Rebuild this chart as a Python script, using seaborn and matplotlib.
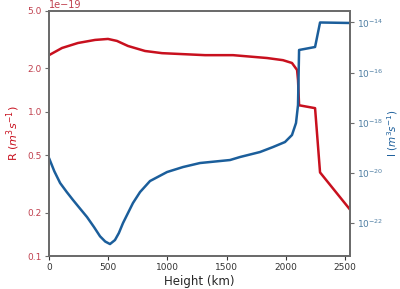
import numpy as np
import pandas as pd
import matplotlib
matplotlib.use("Agg")
import matplotlib.pyplot as plt
import seaborn as sns
from matplotlib.ticker import FixedLocator, FixedFormatter, NullLocator

# ── Data ─────────────────────────────────────────────────────────────────────
r_height = [0, 110, 245, 389, 498, 574, 667, 811, 955, 1318, 1554, 1841,
            1976, 2052, 2095, 2103, 2112, 2247, 2289, 2542]
r_value = [2.47, 2.77, 3.00, 3.15, 3.20, 3.10, 2.86, 2.64, 2.55, 2.47, 2.47,
           2.36, 2.28, 2.18, 1.95, 1.66, 1.11, 1.06, 0.38, 0.21]   # x 1e-19

i_height = [0, 45, 94, 150, 203, 260, 321, 380, 431, 475, 515, 557, 590, 625,
            709, 769, 853, 997, 1132, 1275, 1529, 1613, 1782, 1892, 1993,
            2052, 2086, 2103, 2112, 2247, 2289, 2542]
i_log = [-19.42, -19.95, -20.42, -20.78, -21.10, -21.43, -21.78, -22.18,
         -22.55, -22.76, -22.86, -22.70, -22.42, -22.02, -21.22, -20.78,
         -20.34, -19.98, -19.78, -19.62, -19.50, -19.38, -19.18, -18.98,
         -18.78, -18.50, -18.02, -17.30, -15.10, -14.98, -14.00, -14.02]

RED = "#c8101e"
BLUE = "#1b5e9b"
RED_TXT = "#c0404e"
BLUE_TXT = "#4f7ea3"
SPINE = "#6b6b6b"

sns.set_style("ticks")
plt.rcParams["font.family"] = ["DejaVu Sans"]

df_r = pd.DataFrame({"h": r_height, "R": r_value})
df_i = pd.DataFrame({"h": i_height, "I": 10.0 ** np.array(i_log)})

fig = plt.figure(figsize=(4.0, 2.89), dpi=100)
ax = fig.add_axes([0.1225, 0.114, 0.7525, 0.848])
ax2 = ax.twinx()

sns.lineplot(data=df_r, x="h", y="R", ax=ax, color=RED, lw=1.8)
sns.lineplot(data=df_i, x="h", y="I", ax=ax2, color=BLUE, lw=1.8)

ax.set_xlim(0, 2542)
ax.set_yscale("log")
ax.set_ylim(0.1, 5.0)
rt = [0.1, 0.2, 0.5, 1.0, 2.0, 5.0]
ax.yaxis.set_major_locator(FixedLocator(rt))
ax.yaxis.set_major_formatter(FixedFormatter([f"{v:.1f}" for v in rt]))
ax.yaxis.set_minor_locator(NullLocator())
ax.text(0.0, 1.005, "1e\u221219", transform=ax.transAxes, fontsize=7,
        color=RED_TXT, ha="left", va="bottom")
ax.set_xticks([0, 500, 1000, 1500, 2000, 2500])

ax2.set_yscale("log")
ax2.set_ylim(10 ** -23.34, 10 ** -13.54)
ax2.yaxis.set_major_locator(FixedLocator([1e-22, 1e-20, 1e-18, 1e-16, 1e-14]))
ax2.yaxis.set_minor_locator(NullLocator())

ax.set_xlabel("Height (km)", fontsize=8.5, labelpad=2)
ax.set_ylabel(r"R $(m^3 s^{-1})$", fontsize=8, color=RED, labelpad=4)
ax2.set_ylabel(r"I $(m^3 s^{-1})$", fontsize=7.5, color=BLUE, labelpad=1)

ax.tick_params(axis="x", labelsize=6.5, colors="#333333", length=3, pad=2)
ax.tick_params(axis="y", labelsize=6.5, colors=SPINE, labelcolor=RED_TXT,
               length=3, pad=2)
ax2.tick_params(axis="y", labelsize=6.5, colors=SPINE, labelcolor=BLUE_TXT,
                length=3, pad=2)

for a in (ax, ax2):
    for s in a.spines.values():
        s.set_visible(True)
        s.set_color(SPINE)
        s.set_linewidth(1.3)

fig.savefig("out.png", dpi=100)
